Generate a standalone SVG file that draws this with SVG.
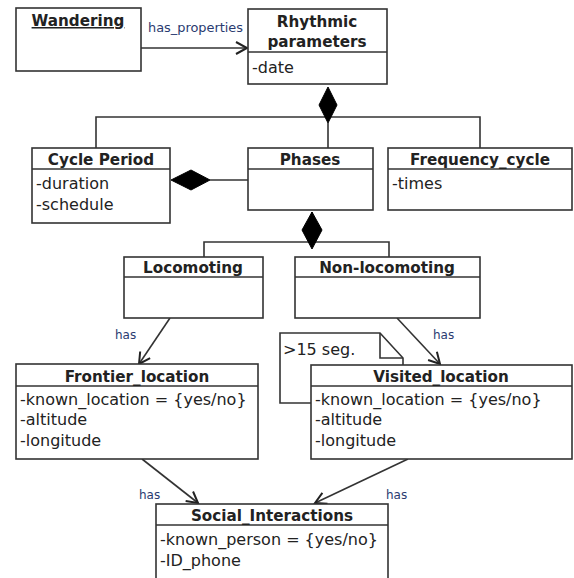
<svg xmlns="http://www.w3.org/2000/svg" width="574" height="578" viewBox="0 0 574 578">
<defs>
<style>
.box{fill:#fff;stroke:#333;stroke-width:1.6}
.ln{fill:none;stroke:#333;stroke-width:1.6}
.t{font-family:"DejaVu Sans",sans-serif;font-size:15.2px;font-weight:bold;fill:#222;text-anchor:middle}
.a{font-family:"DejaVu Sans",sans-serif;font-size:16px;fill:#222}
.lbl{font-family:"DejaVu Sans",sans-serif;font-size:12px;fill:#2a3a70}
.dia{fill:#000;stroke:#000;stroke-width:1}
</style>
<marker id="open" markerWidth="16" markerHeight="16" refX="13" refY="8" orient="auto" markerUnits="userSpaceOnUse">
<path d="M2,2 L13,8 L2,14" fill="none" stroke="#222" stroke-width="2"/>
</marker>
</defs>
<rect width="574" height="578" fill="#fff"/>
<g id="connectors">
<line class="ln" x1="141" y1="48" x2="247" y2="48" marker-end="url(#open)"/>
<text class="lbl" x="148" y="32" textLength="95" lengthAdjust="spacingAndGlyphs">has_properties</text>
<path class="ln" d="M328,123 V148 M96,148 V117 H480 V148"/>
<polygon class="dia" points="328,87 337,105 328,123 319,105"/>
<path class="ln" d="M210,180 H248"/>
<polygon class="dia" points="171,180 191,170 210,180 191,190"/>
<path class="ln" d="M204,257 V242 H389 V257 M312,212 V242"/>
<polygon class="dia" points="312,212 322,230 312,249 302,230"/>
<line class="ln" x1="170" y1="318" x2="139" y2="364" marker-end="url(#open)"/>
<text class="lbl" x="115" y="339">has</text>
<line class="ln" x1="397" y1="318" x2="440" y2="364" marker-end="url(#open)"/>
<text class="lbl" x="433" y="339">has</text>
<line class="ln" x1="142" y1="459" x2="198" y2="503" marker-end="url(#open)"/>
<text class="lbl" x="139" y="499">has</text>
<line class="ln" x1="408" y1="459" x2="315" y2="503" marker-end="url(#open)"/>
<text class="lbl" x="386" y="499">has</text>
</g>
<g id="wandering">
<rect class="box" x="16" y="8" width="125" height="63"/>
<text class="t" x="78" y="26" text-decoration="underline">Wandering</text>
</g>
<g id="rhythmic">
<rect class="box" x="248" y="9" width="139" height="75"/>
<line class="ln" x1="248" y1="52" x2="387" y2="52"/>
<text class="t" x="317" y="27">Rhythmic</text>
<text class="t" x="317" y="47">parameters</text>
<text class="a" x="252" y="73">-date</text>
</g>
<g id="cycle">
<rect class="box" x="32" y="148" width="138" height="75"/>
<line class="ln" x1="32" y1="169" x2="170" y2="169"/>
<text class="t" x="101" y="165">Cycle Period</text>
<text class="a" x="36" y="189">-duration</text>
<text class="a" x="36" y="210">-schedule</text>
</g>
<g id="phases">
<rect class="box" x="248" y="148" width="125" height="62"/>
<line class="ln" x1="248" y1="169" x2="373" y2="169"/>
<text class="t" x="310" y="165">Phases</text>
</g>
<g id="frequency">
<rect class="box" x="388" y="148" width="184" height="62"/>
<line class="ln" x1="388" y1="169" x2="572" y2="169"/>
<text class="t" x="480" y="165">Frequency_cycle</text>
<text class="a" x="392" y="189">-times</text>
</g>
<g id="locomoting">
<rect class="box" x="124" y="257" width="139" height="61"/>
<line class="ln" x1="124" y1="277" x2="263" y2="277"/>
<text class="t" x="193" y="273">Locomoting</text>
</g>
<g id="nonlocomoting">
<rect class="box" x="295" y="257" width="185" height="61"/>
<line class="ln" x1="295" y1="277" x2="480" y2="277"/>
<text class="t" x="387" y="273">Non-locomoting</text>
</g>
<g id="note">
<path class="box" d="M280,333 H380 L403,358 V403 H280 Z"/>
<path class="ln" d="M380,333 V358 H403"/>
<text class="a" x="283" y="355">&gt;15 seg.</text>
</g>
<g id="frontier">
<rect class="box" x="16" y="364" width="242" height="95"/>
<line class="ln" x1="16" y1="386" x2="258" y2="386"/>
<text class="t" x="137" y="382">Frontier_location</text>
<text class="a" x="20" y="405">-known_location = {yes/no}</text>
<text class="a" x="20" y="425">-altitude</text>
<text class="a" x="20" y="446">-longitude</text>
</g>
<g id="visited">
<rect class="box" x="311" y="365" width="261" height="94"/>
<line class="ln" x1="311" y1="386" x2="572" y2="386"/>
<text class="t" x="441" y="382">Visited_location</text>
<text class="a" x="315" y="405">-known_location = {yes/no}</text>
<text class="a" x="315" y="425">-altitude</text>
<text class="a" x="315" y="446">-longitude</text>
</g>
<g id="social">
<rect class="box" x="156" y="504" width="232" height="80"/>
<line class="ln" x1="156" y1="525" x2="388" y2="525"/>
<text class="t" x="272" y="521">Social_Interactions</text>
<text class="a" x="160" y="545">-known_person = {yes/no}</text>
<text class="a" x="160" y="566">-ID_phone</text>
</g>
</svg>
